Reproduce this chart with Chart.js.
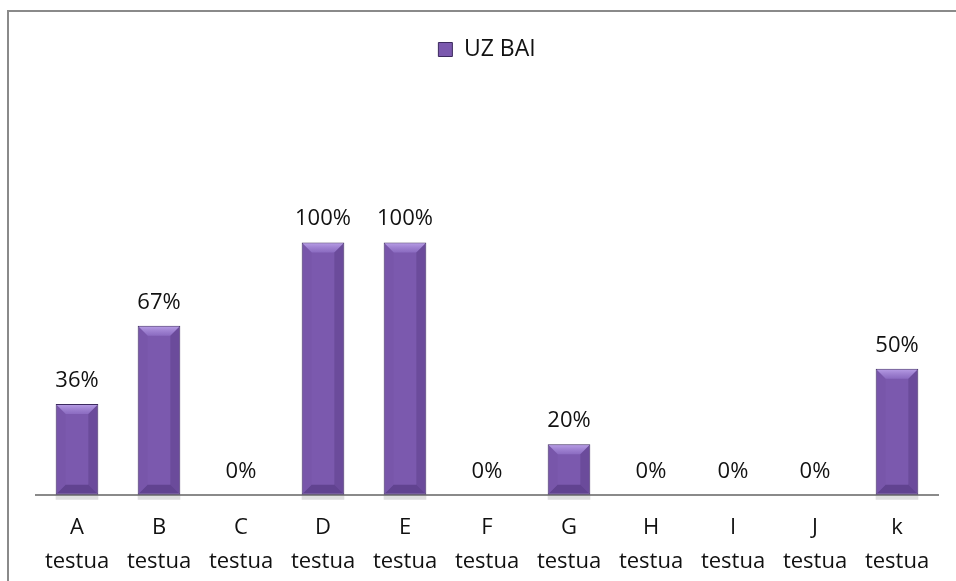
<!DOCTYPE html>
<html>
<head>
<meta charset="utf-8">
<script src="https://cdn.jsdelivr.net/npm/chart.js@4/dist/chart.umd.min.js"></script>
<style>
  html, body { margin: 0; padding: 0; background: #fff; }
  #wrap { position: relative; width: 956px; height: 581px; overflow: hidden; }
  #frame { position: absolute; left: 7px; top: 10px; width: 1100px; height: 700px;
           border: 2px solid #8a8a8a; pointer-events: none; box-sizing: border-box; }
  canvas { position: absolute; left: 0; top: 0; }
</style>
</head>
<body>
<div id="wrap">
  <canvas id="c" width="956" height="595"></canvas>
  <div id="frame"></div>
</div>
<script>
const categories = [['A','testua'],['B','testua'],['C','testua'],['D','testua'],['E','testua'],['F','testua'],['G','testua'],['H','testua'],['I','testua'],['J','testua'],['k','testua']];
const seriesName = 'UZ BAI';
const uzBai = [0.36, 0.67, 0, 1.00, 1.00, 0, 0.20, 0, 0, 0, 0.50];

const FONT = '"Open Sans", "Liberation Sans", sans-serif';

const legendSpace = {
  id: 'legendSpace',
  beforeInit(chart) {
    const orig = chart.legend.fit;
    chart.legend.fit = function () {
      orig.call(this);
      this.height += 121;
    };
  }
};

const bevelPlugin = {
  id: 'bevel',
  afterDatasetsDraw(chart) {
    const ctx = chart.ctx;
    const meta = chart.getDatasetMeta(0);
    meta.data.forEach((bar, i) => {
      if (!uzBai[i]) return;
      const w = bar.width, x0 = bar.x - w / 2, x1 = bar.x + w / 2, top = bar.y, bot = bar.base;
      const b = Math.min(10, (bot - top) / 2);
      ctx.save();
      const tg = ctx.createLinearGradient(0, top, 0, top + b);
      tg.addColorStop(0, 'rgba(190,165,235,0.95)');
      tg.addColorStop(1, 'rgba(150,120,205,0.6)');
      ctx.beginPath();
      ctx.moveTo(x0 + 1, top + 1); ctx.lineTo(x1 - 1, top + 1);
      ctx.lineTo(x1 - b, top + b); ctx.lineTo(x0 + b, top + b); ctx.closePath();
      ctx.fillStyle = tg; ctx.fill();
      ctx.beginPath();
      ctx.moveTo(x0 + 1, top + 1); ctx.lineTo(x0 + b, top + b);
      ctx.lineTo(x0 + b, bot - b); ctx.lineTo(x0 + 1, bot - 1); ctx.closePath();
      ctx.fillStyle = 'rgba(110,80,160,0.25)'; ctx.fill();
      ctx.beginPath();
      ctx.moveTo(x1 - 1, top + 1); ctx.lineTo(x1 - b, top + b);
      ctx.lineTo(x1 - b, bot - b); ctx.lineTo(x1 - 1, bot - 1); ctx.closePath();
      ctx.fillStyle = 'rgba(60,35,100,0.25)'; ctx.fill();
      ctx.beginPath();
      ctx.moveTo(x0 + 1, bot - 1); ctx.lineTo(x1 - 1, bot - 1);
      ctx.lineTo(x1 - b, bot - b); ctx.lineTo(x0 + b, bot - b); ctx.closePath();
      ctx.fillStyle = 'rgba(50,25,90,0.35)'; ctx.fill();
      ctx.fillStyle = 'rgba(0,0,0,0.12)';
      ctx.fillRect(x0, bot + 1, w, 4);
      ctx.restore();
    });
  }
};

const labelPlugin = {
  id: 'valueLabels',
  afterDatasetsDraw(chart) {
    const ctx = chart.ctx;
    const meta = chart.getDatasetMeta(0);
    ctx.save();
    ctx.font = '22px ' + FONT;
    ctx.fillStyle = '#111';
    ctx.textAlign = 'center';
    ctx.textBaseline = 'alphabetic';
    meta.data.forEach((bar, i) => {
      ctx.fillText(Math.round(uzBai[i] * 100) + '%', bar.x, bar.y - 17);
    });
    ctx.restore();
  }
};

const ctx = document.getElementById('c').getContext('2d');
new Chart(ctx, {
  type: 'bar',
  data: {
    labels: categories,
    datasets: [{
      label: seriesName,
      data: uzBai,
      backgroundColor: (c) => {
        const el = c.element;
        if (!el || !el.width) return '#7b59ae';
        const g = c.chart.ctx.createLinearGradient(el.x - el.width / 2, 0, el.x + el.width / 2, 0);
        g.addColorStop(0, '#70509f');
        g.addColorStop(0.5, '#7d5bb1');
        g.addColorStop(1, '#6c4b9b');
        return g;
      },
      borderColor: '#3c2a5e',
      borderWidth: 1,
      borderSkipped: false,
      categoryPercentage: 1,
      barPercentage: 0.52
    }]
  },
  options: {
    responsive: false,
    animation: false,
    devicePixelRatio: 1,
    layout: { padding: { left: 36, right: 18, top: 32, bottom: 0 } },
    plugins: {
      legend: {
        display: true,
        position: 'top',
        labels: {
          font: { family: FONT, size: 23 },
          color: '#111',
          boxWidth: 14,
          boxHeight: 14,
          padding: 6,
          generateLabels: () => [{ text: seriesName, fillStyle: '#7b59ae', strokeStyle: '#3c2a5e', lineWidth: 1, fontColor: '#111' }]
        }
      },
      tooltip: { enabled: false }
    },
    scales: {
      x: {
        grid: { display: false, drawTicks: false },
        border: { display: true, color: '#8a8a8a', width: 2 },
        ticks: { font: { family: FONT, size: 22, lineHeight: 1.55 }, color: '#111', padding: 16, maxRotation: 0, autoSkip: false }
      },
      y: {
        display: false,
        min: 0,
        max: 1.2
      }
    }
  },
  plugins: [legendSpace, labelPlugin, bevelPlugin]
});
</script>
</body>
</html>
